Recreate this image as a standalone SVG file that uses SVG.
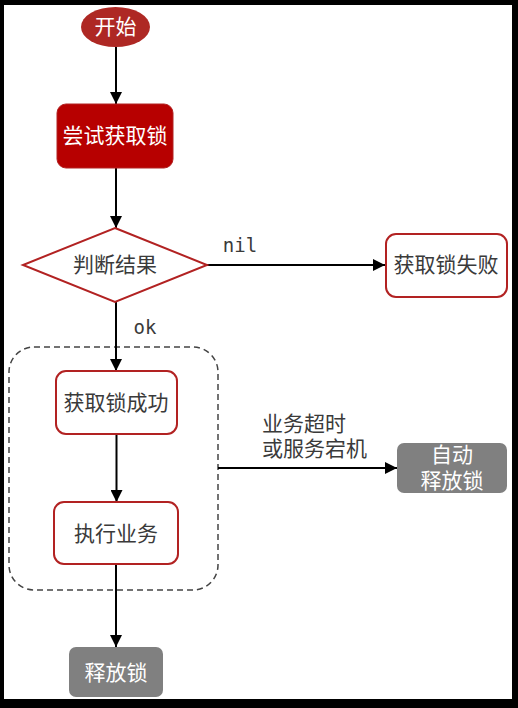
<svg xmlns="http://www.w3.org/2000/svg" width="518" height="708" viewBox="0 0 518 708">
<defs>
<marker id="ah" viewBox="0 0 10 10" refX="10" refY="5" markerWidth="12" markerHeight="12" markerUnits="userSpaceOnUse" orient="auto">
<path d="M0,0 L10,5 L0,10 Z" fill="#000"/>
</marker>
<style>
.t{font-family:"Microsoft YaHei","Noto Sans CJK SC",sans-serif;font-size:21px;text-anchor:middle}
.w{fill:#fff}
.g{fill:#3a3a3a}
.m{font-family:"DejaVu Sans Mono","Liberation Mono",monospace;font-size:19px;fill:#3a3a3a}
.box{fill:#fff;stroke:#B22222;stroke-width:2}
.gray{fill:#808080}
.c{stroke:#000;stroke-width:2;fill:none;marker-end:url(#ah)}
</style>
</defs>
<rect x="0" y="0" width="518" height="708" fill="#000"/>
<rect x="4" y="5" width="508" height="694" fill="#fff"/>
<g id="group-box">
<rect x="9" y="347" width="209" height="243" rx="25" fill="none" stroke="#444" stroke-width="1.5" stroke-dasharray="6,4"/>
</g>
<g id="connectors">
<path class="c" d="M116,47 L116,104"/>
<path class="c" d="M116,168 L116,228"/>
<path class="c" d="M207,265 L385,265"/>
<path class="c" d="M116,302 L116,371"/>
<path class="c" d="M116.5,434 L116.5,502"/>
<path class="c" d="M116,564 L116,647"/>
<path class="c" d="M218,468 L397,468"/>
<text class="m" x="240" y="252" text-anchor="middle">nil</text>
<text class="m" x="145" y="334" text-anchor="middle">ok</text>
<text class="t g" style="text-anchor:start"><tspan x="262" y="431">业务超时</tspan><tspan x="262" y="456">或服务宕机</tspan></text>
</g>
<g id="start">
<ellipse cx="115.5" cy="27" rx="34.5" ry="20" fill="#AE2824"/>
<text class="t w" x="115.5" y="34">开始</text>
</g>
<g id="try-lock">
<rect x="57" y="104" width="116" height="64" rx="9" fill="#B70000" stroke="#B22222" stroke-width="1"/>
<text class="t w" x="115" y="143">尝试获取锁</text>
</g>
<g id="decision">
<polygon points="115,228 207,265 115,302 23,265" fill="#fff" stroke="#B22222" stroke-width="2"/>
<text class="t g" x="115" y="272">判断结果</text>
</g>
<g id="lock-fail">
<rect class="box" x="386" y="234" width="121" height="63" rx="10"/>
<text class="t g" x="446" y="272">获取锁失败</text>
</g>
<g id="lock-ok">
<rect class="box" x="56" y="371" width="121" height="63" rx="10"/>
<text class="t g" x="116" y="410">获取锁成功</text>
</g>
<g id="exec">
<rect class="box" x="54" y="502" width="124" height="62" rx="10"/>
<text class="t g" x="116" y="541">执行业务</text>
</g>
<g id="auto-release">
<rect class="gray" x="397" y="443" width="110" height="50" rx="7"/>
<text class="t w"><tspan x="452" y="462">自动</tspan><tspan x="452" y="488">释放锁</tspan></text>
</g>
<g id="release">
<rect class="gray" x="69" y="647" width="94" height="50" rx="7"/>
<text class="t w" x="116" y="680">释放锁</text>
</g>
</svg>
